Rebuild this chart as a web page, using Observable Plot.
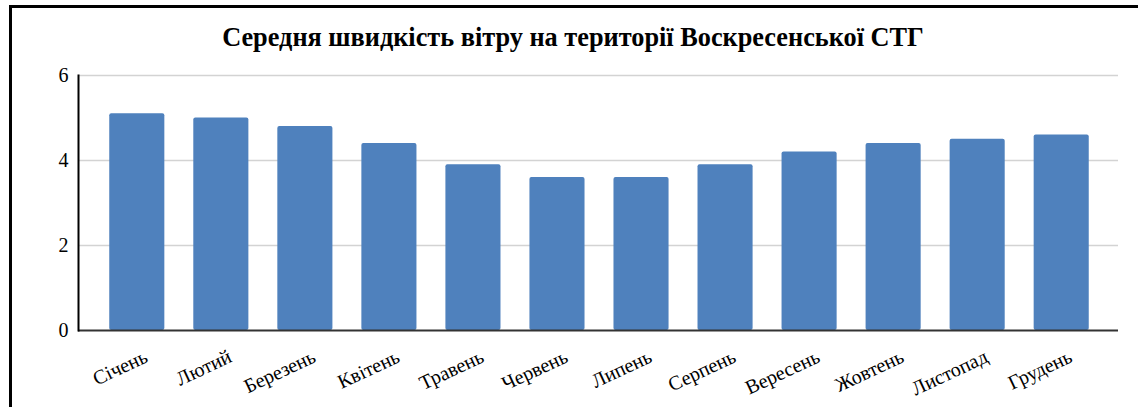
<!DOCTYPE html>
<html>
<head>
<meta charset="utf-8">
<script src="https://cdn.jsdelivr.net/npm/d3@7"></script>
<script src="https://cdn.jsdelivr.net/npm/@observablehq/plot@0.6"></script>
<style>
  body { margin: 0; background: #fff; }
  #wrap { position: relative; width: 1138px; height: 407px; overflow: hidden; background: #fff; }
  #border { position: absolute; left: 9px; top: 5px; width: 1300px; height: 600px;
            border-left: 3px solid #000; border-top: 3px solid #000; box-sizing: border-box; }
  #title { position: absolute; left: 0; width: 1146px; top: 23px; text-align: center;
           font-family: "Liberation Serif", serif; font-weight: bold; font-size: 26.3px; color: #000; line-height: 30px; }
  #chart { position: absolute; left: 0; top: 0; }
  #chart svg, #chart svg text { font-family: "Liberation Serif", serif; }
</style>
</head>
<body>
<div id="wrap">
  <div id="border"></div>
  <div id="title">Середня швидкість вітру на території Воскресенської СТГ</div>
  <div id="chart"></div>
</div>
<script>
const months = ["Січень", "Лютий", "Березень", "Квітень", "Травень", "Червень",
                "Липень", "Серпень", "Вересень", "Жовтень", "Листопад", "Грудень"];
const windSpeed = [5.1, 5.0, 4.8, 4.4, 3.9, 3.6, 3.6, 3.9, 4.2, 4.4, 4.5, 4.6];
const yTicks = [0, 2, 4, 6];

const data = months.map((m, i) => ({month: m, value: windSpeed[i]}));
const serif = "Liberation Serif";

const chart = Plot.plot({
  width: 1138,
  height: 407,
  marginTop: 75,
  marginBottom: 77,
  marginLeft: 78,
  marginRight: 20,
  style: {fontFamily: serif, background: "transparent", color: "#000"},
  x: {domain: months, paddingInner: 0.3445, paddingOuter: 0.36, round: false, label: null},
  y: {domain: [0, 6], label: null},
  marks: [
    Plot.ruleY(yTicks.filter(d => d > 0), {stroke: "#d3d3d3", strokeWidth: 1.5}),
    Plot.barY(data, {x: "month", y: "value", fill: "#4f81bd", rx: 2, dx: 1}),
    Plot.ruleY([0], {stroke: "#333", strokeWidth: 2}),
    Plot.frame({anchor: "left", stroke: "#000", strokeWidth: 2}),
    Plot.axisY({ticks: yTicks, tickSize: 0, tickPadding: 10, fontSize: 20, fontFamily: serif, tickFormat: d => d}),
    Plot.axisX({tickSize: 0, tickRotate: -25, tickPadding: 25, dx: 10, fontSize: 20, fontFamily: serif})
  ]
});
document.getElementById("chart").appendChild(chart);
</script>
</body>
</html>
